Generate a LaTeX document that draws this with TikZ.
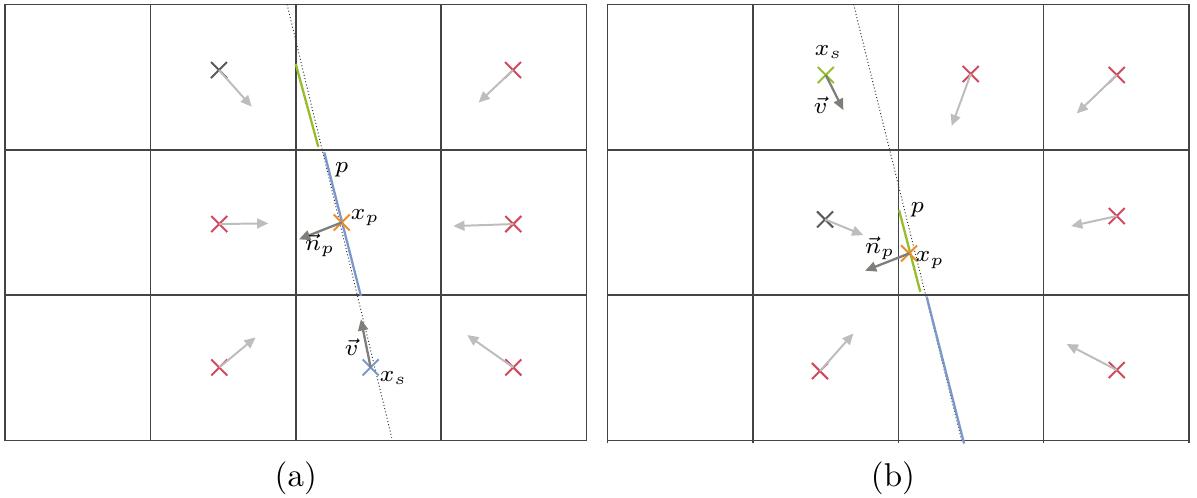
\documentclass[tikz,border=0pt]{standalone}
\usepackage{amsmath}
\usepackage{xcolor}
\usepackage{tikz}
\usetikzlibrary{arrows.meta,shapes.misc}
\definecolor{cellred}{HTML}{D1495F}
\definecolor{planeblue}{HTML}{7B97CB}
\definecolor{planegreen}{HTML}{95BE2A}
\definecolor{hitorange}{HTML}{EE8B2B}
\definecolor{flowgrey}{HTML}{BDBDBD}
\definecolor{vecgrey}{HTML}{7D7F7A}
\definecolor{gridgrey}{HTML}{444444}

\begin{document}
\begin{tikzpicture}[
    x=1.55cm, y=1.55cm,
    gridline/.style={draw=gridgrey, line width=0.45pt},
    extline/.style={draw=black!80, line width=0.3pt, dash pattern=on 0.3pt off 0.7pt},
    plane/.style={line width=0.7pt},
    xmark/.style={cross out, draw=cellred, line width=0.6pt,
                  minimum size=1.5mm, inner sep=0pt},
    arr/.style={-{Triangle[length=3.4pt,width=3pt]}, draw=flowgrey, line width=0.6pt},
    vecarr/.style={arr, draw=vecgrey, line width=0.7pt},
    lbl/.style={font=\scriptsize, inner sep=1pt},
]
    \useasboundingbox (-0.034,-0.389) rectangle (8.198,3.030);

    % (a)
    \begin{scope}
        \foreach \i in {0,...,4}
            \draw[gridline] (\i,0) -- (\i,3);
        \foreach \j in {0,...,3}
            \draw[gridline] (0,\j) -- (4,\j);
        \draw[extline] (1.94,3.00) -- (2.66,0.02);
        \draw[plane, planegreen] (2.00,2.59) -- (2.155,2.02);
        \draw[plane, planeblue] (2.196,1.982) -- (2.448,0.994);

        \node[xmark, draw=black!65] (a-c1) at (1.472,2.548) {};
        \node[xmark] (a-c2) at (3.494,2.548) {};
        \node[xmark] (a-c3) at (1.474,1.489) {};
        \node[xmark] (a-c4) at (3.496,1.489) {};
        \node[xmark] (a-c5) at (1.474,0.503) {};
        \node[xmark] (a-c6) at (3.496,0.503) {};
        \node[xmark, draw=planeblue] (a-xs) at (2.515,0.503) {};
        \node[xmark, draw=hitorange] (a-xp) at (2.316,1.500) {};

        \coordinate (a-t1) at (1.697,2.296);
        \coordinate (a-t2) at (3.257,2.324);
        \coordinate (a-t3) at (1.811,1.494);
        \coordinate (a-t4) at (3.083,1.475);
        \coordinate (a-t5) at (1.724,0.710);
        \coordinate (a-t6) at (3.179,0.726);
        \coordinate (a-v) at (2.448,0.834);
        \coordinate (a-np) at (2.022,1.384);

        \draw[arr] (a-c1.center) -- (a-t1);
        \draw[arr] (a-c2.center) -- (a-t2);
        \draw[arr] (a-c3.center) -- (a-t3);
        \draw[arr] (a-c4.center) -- (a-t4);
        \draw[arr] (a-c5.center) -- (a-t5);
        \draw[arr] (a-c6.center) -- (a-t6);
        \draw[vecarr] (a-xs.center) -- (a-v);
        \draw[vecarr] (a-xp.center) -- (a-np);

        \node[lbl] (a-lp) at (2.316,1.860) {$p$};
        \node[lbl] (a-lxp) at (2.476,1.532) {$x_p$};
        \node[lbl] (a-lnp) at (2.166,1.345) {$\vec{n}_p$};
        \node[lbl] (a-lv) at (2.384,0.645) {$\vec{v}$};
        \node[lbl] (a-lxs) at (2.671,0.428) {$x_s$};
        \node (a-cap) at (2.0,-0.26) {(a)};
    \end{scope}

    % (b)
    \begin{scope}[shift={(4.144,0)}]
        \foreach \i in {0,...,4}
            \draw[gridline] (\i,-0.02) -- (\i,3);
        \foreach \j in {0,...,3}
            \draw[gridline] (0,\j) -- (4,\j);
        \draw[extline] (1.692,3.00) -- (2.436,0.00);
        \draw[plane, planegreen] (2.005,1.585) -- (2.151,1.023);
        \draw[plane, planeblue] (2.195,0.989) -- (2.452,-0.02);

        \node[xmark, draw=black!65] (b-c1) at (1.496,1.521) {};
        \node[xmark] (b-c2) at (2.498,2.521) {};
        \node[xmark] (b-c3) at (3.502,2.514) {};
        \node[xmark] (b-c4) at (3.502,1.544) {};
        \node[xmark] (b-c5) at (1.461,0.478) {};
        \node[xmark] (b-c6) at (3.502,0.485) {};
        \node[xmark, draw=planegreen] (b-xs) at (1.501,2.514) {};
        \node[xmark, draw=hitorange] (b-xp) at (2.074,1.287) {};

        \coordinate (b-t1) at (1.759,1.413);
        \coordinate (b-t2) at (2.367,2.163);
        \coordinate (b-t3) at (3.227,2.250);
        \coordinate (b-t4) at (3.188,1.475);
        \coordinate (b-t5) at (1.691,0.737);
        \coordinate (b-t6) at (3.158,0.664);
        \coordinate (b-v) at (1.622,2.273);
        \coordinate (b-np) at (1.771,1.168);

        \draw[arr] (b-c1.center) -- (b-t1);
        \draw[arr] (b-c2.center) -- (b-t2);
        \draw[arr] (b-c3.center) -- (b-t3);
        \draw[arr] (b-c4.center) -- (b-t4);
        \draw[arr] (b-c5.center) -- (b-t5);
        \draw[arr] (b-c6.center) -- (b-t6);
        \draw[vecarr] (b-xs.center) -- (b-v);
        \draw[vecarr] (b-xp.center) -- (b-np);

        \node[lbl] (b-lxs) at (1.519,2.674) {$x_s$};
        \node[lbl] (b-lv) at (1.466,2.307) {$\vec{v}$};
        \node[lbl] (b-lp) at (2.131,1.585) {$p$};
        \node[lbl] (b-lnp) at (1.874,1.322) {$\vec{n}_p$};
        \node[lbl] (b-lxp) at (2.218,1.241) {$x_p$};
        \node (b-cap) at (1.963,-0.26) {(b)};
    \end{scope}
\end{tikzpicture}
\end{document}
